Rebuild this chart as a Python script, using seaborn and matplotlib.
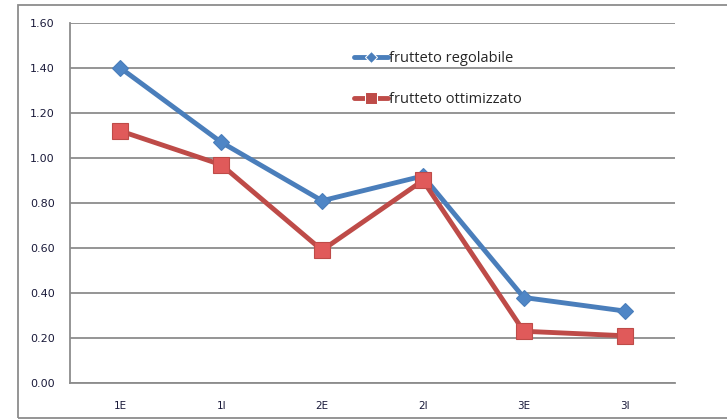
import matplotlib
matplotlib.use("Agg")
import matplotlib.pyplot as plt
import matplotlib.patches as mpatches
import numpy as np
import pandas as pd
import seaborn as sns

# values
categories = ["1E", "1I", "2E", "2I", "3E", "3I"]
regolabile = [1.40, 1.07, 0.81, 0.92, 0.38, 0.32]
ottimizzato = [1.12, 0.97, 0.59, 0.90, 0.23, 0.21]
series_names = ["frutteto regolabile", "frutteto ottimizzato"]
y_ticks = [0.0, 0.2, 0.4, 0.6, 0.8, 1.0, 1.2, 1.4, 1.6]

df = pd.DataFrame({
    "classe": categories * 2,
    "valore": regolabile + ottimizzato,
    "serie": [series_names[0]] * len(categories) + [series_names[1]] * len(categories),
})

sns.set_style("white")
plt.rcParams["font.family"] = ["DejaVu Sans"]

fig = plt.figure(figsize=(7.27, 4.19), dpi=100)
ax = fig.add_axes([70 / 727, 36 / 419, 605 / 727, 360 / 419])

palette = {series_names[0]: "#4a7ebb", series_names[1]: "#be4b48"}
sns.lineplot(data=df, x="classe", y="valore", hue="serie", style="serie",
             palette=palette, markers={series_names[0]: "D", series_names[1]: "s"},
             dashes=False, linewidth=3.5, markersize=9, ax=ax, sort=False)

# marker colours per line
for line, face in zip(ax.lines[:2], ["#4f86c6", "#e05a5a"]):
    line.set_markerfacecolor(face)
    line.set_markeredgecolor(line.get_color())
    line.set_markeredgewidth(0.8)
ax.lines[0].set_markersize(8)
ax.lines[1].set_markersize(11)

ax.set_xlim(-0.5, len(categories) - 0.5)
ax.set_ylim(0, 1.6)
ax.set_yticks(y_ticks)
ax.set_yticklabels([f"{v:.2f}" for v in y_ticks])
ax.yaxis.grid(True, color="#8c8c8c", linewidth=1.3)
ax.set_axisbelow(True)

# category labels between boundary tick marks
ax.set_xticks(np.arange(len(categories) + 1) - 0.5)
ax.set_xticklabels([])
ax.set_xticks(np.arange(len(categories)), minor=True)
ax.set_xticklabels(categories, minor=True)
ax.tick_params(axis="x", which="major", length=5, width=1.3, color="#8c8c8c", direction="out")
ax.tick_params(axis="x", which="minor", length=0, pad=13, labelsize=7.5, labelcolor="#1a1a3a")
ax.tick_params(axis="y", length=5, width=1.3, color="#8c8c8c", direction="out",
               pad=6, labelsize=8, labelcolor="#1a1a3a")

for side in ["top", "right"]:
    ax.spines[side].set_visible(False)
for side in ["left", "bottom"]:
    ax.spines[side].set_color("#8c8c8c")
    ax.spines[side].set_linewidth(1.3)

ax.set_xlabel("")
ax.set_ylabel("")

leg = ax.legend(loc="upper left", bbox_to_anchor=(0.448, 0.958), frameon=False,
                prop={"family": ["Open Sans", "DejaVu Sans"], "size": 10.5},
                handlelength=2.3, handletextpad=0.1, labelspacing=1.75)
for h, ms in zip(leg.legend_handles, [6, 8]):
    h.set_linewidth(3.5)
    h.set_markersize(ms)

# outer chart border
fig.add_artist(mpatches.Rectangle((18 / 727, 1 / 419), 1.2, 413 / 419,
                                  transform=fig.transFigure, fill=False,
                                  edgecolor="#8c8c8c", linewidth=1.3, clip_on=False))

plt.savefig("out.png", dpi=100)
